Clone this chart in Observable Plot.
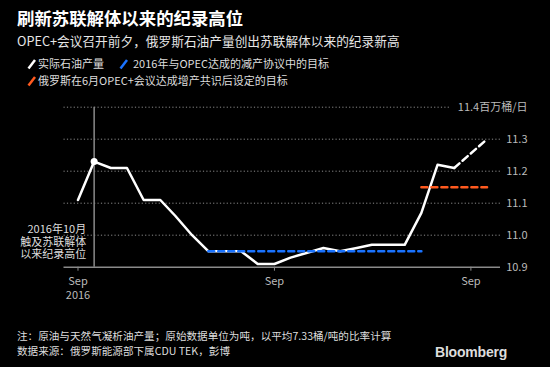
<!DOCTYPE html>
<html><head><meta charset="utf-8">
<script src="https://cdn.jsdelivr.net/npm/d3@7"></script>
<script src="https://cdn.jsdelivr.net/npm/@observablehq/plot@0.6"></script>
<style>
html,body{margin:0;padding:0;background:#000;}
#wrap{position:relative;width:550px;height:367px;background:#000;overflow:hidden;font-family:"Noto Sans CJK SC","Noto Sans",sans-serif;color:#fff;}
.t{position:absolute;white-space:nowrap;}
#chart{position:absolute;left:0;top:90px;}
.ic{position:absolute;}
</style></head><body>
<div id="wrap">
  <div class="t" style="left:17px;top:5px;font-size:17.4px;line-height:26px;font-weight:bold;color:#fff;">刷新苏联解体以来的纪录高位</div>
  <div class="t" style="left:17px;top:31px;font-size:12.7px;line-height:20px;color:#e6e6e6;">OPEC+会议召开前夕，俄罗斯石油产量创出苏联解体以来的纪录新高</div>
  <svg class="ic" style="left:26px;top:58px" width="12" height="12"><line x1="2.5" y1="10.5" x2="9" y2="2" stroke="#fff" stroke-width="2.5"/></svg>
  <div class="t" style="left:38px;top:54px;font-size:11px;line-height:18px;color:#ddd;">实际石油产量</div>
  <svg class="ic" style="left:118px;top:58px" width="12" height="12"><line x1="2.5" y1="10.5" x2="9" y2="2" stroke="#1a73ff" stroke-width="2.5"/></svg>
  <div class="t" style="left:133px;top:54px;font-size:11px;line-height:18px;color:#ddd;">2016年与OPEC达成的减产协议中的目标</div>
  <svg class="ic" style="left:26px;top:75px" width="12" height="12"><line x1="2.5" y1="10.5" x2="9" y2="2" stroke="#ff5a1f" stroke-width="2.5"/></svg>
  <div class="t" style="left:38px;top:71px;font-size:11px;line-height:18px;color:#ddd;">俄罗斯在6月OPEC+会议达成增产共识后设定的目标</div>
  <div id="chart"></div>
  <div class="t" style="left:17px;top:327px;font-size:10.6px;line-height:18px;color:#ddd;">注：原油与天然气凝析油产量；原始数据单位为吨，以平均7.33桶/吨的比率计算</div>
  <div class="t" style="left:17px;top:342px;font-size:10.6px;line-height:18px;color:#ddd;">数据来源：俄罗斯能源部下属CDU TEK，彭博</div>
  <div class="t" style="left:435px;top:343px;font-size:14px;line-height:18px;font-weight:bold;color:#ddd;font-family:'Liberation Sans',Arial,sans-serif;letter-spacing:-0.2px;">Bloomberg</div>
</div>
<script>
const actualMonths = ["2016-09","2016-10","2016-11","2016-12","2017-01","2017-02","2017-03","2017-04","2017-05","2017-06","2017-07","2017-08","2017-09","2017-10","2017-11","2017-12","2018-01","2018-02","2018-03","2018-04","2018-05","2018-06","2018-07","2018-08"];
const actualValues = [11.11,11.23,11.21,11.21,11.11,11.11,11.06,11.00,10.95,10.95,10.95,10.91,10.91,10.93,10.945,10.96,10.95,10.96,10.97,10.97,10.97,11.07,11.22,11.21];
const prelimMonths = ["2018-08","2018-10"];
const prelimValues = [11.21,11.30];
const target2016Months = ["2017-05","2018-06"];
const target2016Values = [10.95,10.95];
const target2018Months = ["2018-06","2018-10"];
const target2018Values = [11.15,11.15];
const peakMonth = "2016-10";
const peakValue = 11.23;
const peakNote = "2016年10月\n触及苏联解体\n以来纪录高位";
const yTicks = [10.9,11.0,11.1,11.2,11.3,11.4];
const yTickLabels = ["10.9","11.0","11.1","11.2","11.3","11.4百万桶/日"];
const xTickMonths = ["2016-09","2017-09","2018-09"];
const xTickLabels = ["Sep\n2016","Sep","Sep"];

const parse = d3.utcParse("%Y-%m");
const toRows = (ms, vs) => ms.map((m,i) => ({date: parse(m), value: vs[i]}));
const actual = toRows(actualMonths, actualValues);
const prelim = toRows(prelimMonths, prelimValues);
const t2016 = toRows(target2016Months, target2016Values);
const t2018 = toRows(target2018Months, target2018Values);
const peak = [{date: parse(peakMonth), value: peakValue}];
const xTickDates = xTickMonths.map(parse);
const xLabelMap = new Map(xTickDates.map((d,i)=>[+d, xTickLabels[i]]));
const yLabelRows = yTicks.map((v,i)=>({v, label: yTickLabels[i]}));

const font = '"Noto Sans CJK SC","Noto Sans",sans-serif';
const chart = Plot.plot({
  width: 550, height: 215,
  marginLeft: 63.5, marginRight: 50, marginTop: 16.7, marginBottom: 38.3,
  style: {background: "transparent", color: "#bbb", fontFamily: font, fontSize: "11px"},
  x: {type: "utc", domain: [new Date(Date.UTC(2016,7,6)), new Date(Date.UTC(2018,9,26))], axis: null},
  y: {domain: [10.9, 11.4], axis: null},
  marks: [
    Plot.ruleY(yTicks.slice(1,5), {stroke: "#8a8a8a", strokeWidth: 1, strokeDasharray: "1.2,2.2"}),
    Plot.ruleY(yTicks.slice(5), {stroke: "#8a8a8a", strokeWidth: 1, strokeDasharray: "1.2,2.2", insetRight: 49}),
    Plot.ruleY(yTicks.slice(0,1), {stroke: "#8a8a8a", strokeWidth: 1.5}),
    Plot.ruleX(peak, {x: "date", y1: yTicks[0], y2: yTicks[5], stroke: "#8a8a8a", strokeWidth: 1.5}),
    Plot.axisX({ticks: xTickDates, tickSize: 4, tickPadding: 4, stroke: "#8a8a8a", fill: "#bbb", fontSize: 11, lineHeight: 1.27, tickFormat: d => xLabelMap.get(+d)}),
    Plot.text(yLabelRows, {y: "v", text: "label", frameAnchor: "right", dx: 27, textAnchor: "end", fill: "#bbb", fontSize: 11}),
    Plot.text(peak, {x: "date", y: 10.98, text: () => peakNote, textAnchor: "end", dx: -8, fill: "#ddd", fontSize: 11, lineHeight: 1.15}),
    Plot.line(actual, {x: "date", y: "value", stroke: "#fff", strokeWidth: 2.5}),
    Plot.line(prelim, {x: "date", y: "value", stroke: "#fff", strokeWidth: 2.5, strokeDasharray: "7,4"}),
    Plot.line(t2016, {x: "date", y: "value", stroke: "#1a73ff", strokeWidth: 2.5, strokeDasharray: "6,4"}),
    Plot.line(t2018, {x: "date", y: "value", stroke: "#ff5a1f", strokeWidth: 2.5, strokeDasharray: "6,4"}),
    Plot.dot(peak, {x: "date", y: "value", r: 3.5, fill: "#fff"})
  ]
});
document.getElementById("chart").appendChild(chart);
</script>
</body></html>
